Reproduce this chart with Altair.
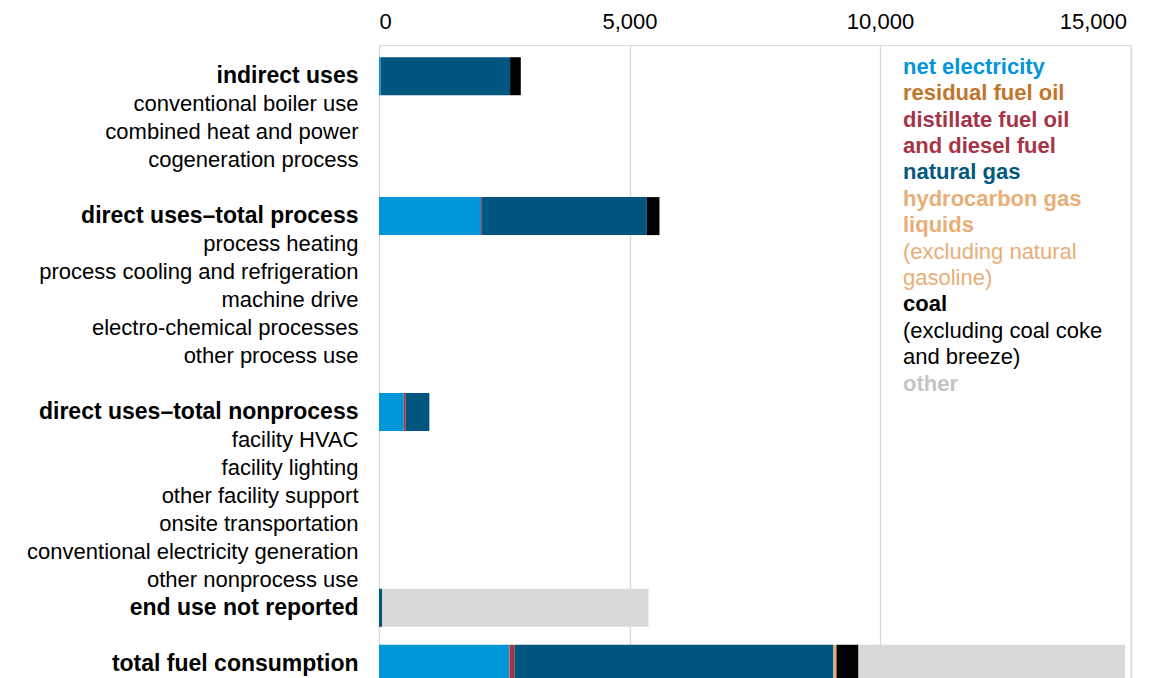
import altair as alt
import pandas as pd

rows = ["indirect uses", "conventional boiler use", "combined heat and power", "cogeneration process", " ",
        "direct uses\u2013total process", "process heating", "process cooling and refrigeration", "machine drive",
        "electro-chemical processes", "other process use", "  ",
        "direct uses\u2013total nonprocess", "facility HVAC", "facility lighting", "other facility support",
        "onsite transportation", "conventional electricity generation", "other nonprocess use",
        "end use not reported", "   ", "total fuel consumption"]
bold_rows = ["indirect uses", "direct uses\u2013total process", "direct uses\u2013total nonprocess",
             "end use not reported", "total fuel consumption"]

fuels = ["net electricity", "residual fuel oil", "distillate fuel oil and diesel fuel", "natural gas",
         "hydrocarbon gas liquids", "coal", "other"]
fuel_colors = ["#0096D7", "#C0752B", "#A63446", "#00567E", "#E8AE78", "#000000", "#D9D9D9"]

bar_rows = ["indirect uses", "direct uses\u2013total process", "direct uses\u2013total nonprocess",
            "end use not reported", "total fuel consumption"]
net_electricity = [30, 2037, 493, 0, 2596]
residual_fuel_oil = [0, 0, 0, 0, 10]
distillate = [0, 20, 40, 0, 100]
natural_gas = [2586, 3290, 472, 60, 6365]
hgl = [0, 0, 0, 0, 60]
coal = [214, 251, 0, 0, 440]
other = [0, 0, 0, 5320, 5320]

series = [net_electricity, residual_fuel_oil, distillate, natural_gas, hgl, coal, other]

recs = []
for fi, (f, vals) in enumerate(zip(fuels, series)):
    for r, v in zip(bar_rows, vals):
        if v > 0:
            recs.append({"row": r, "fuel": f, "value": v, "order": fi})
df = pd.DataFrame(recs)

legend_lines = ["net electricity", "residual fuel oil", "distillate fuel oil", "and diesel fuel", "natural gas",
                "hydrocarbon gas", "liquids", "(excluding natural", "gasoline)", "coal",
                "(excluding coal coke", "and breeze)", "other"]
legend_colors = ["#0096D7", "#C0752B", "#A63446", "#A63446", "#04597F", "#E8AE78", "#E8AE78", "#E8AE78",
                 "#E8AE78", "#000000", "#000000", "#000000", "#C4C4C4"]
legend_bold = [True, True, True, True, True, True, True, False, False, True, False, False, True]
ldf = pd.DataFrame({"text": legend_lines, "tcolor": legend_colors, "bold": legend_bold,
                    "line": list(range(len(legend_lines)))})

H = 650
FONT = "Liberation Sans"

bold_test = " || ".join([f"datum.value == '{b}'" for b in bold_rows])

bars = alt.Chart(df).mark_bar(size=38, strokeWidth=0).encode(
    x=alt.X("value:Q", stack="zero",
            scale=alt.Scale(domain=[0, 15000], nice=False),
            axis=alt.Axis(orient="top", values=[0, 5000, 10000, 15000], format=",d", title=None,
                          domain=False, domainColor="#FFFFFF", domainWidth=0, domainOpacity=0,
                          ticks=False, tickSize=0, labelPadding=17,
                          labelBaseline="alphabetic", labelFontSize=22, labelFont=FONT,
                          labelOffset={"condition": {"test": "datum.value == 15000", "value": -4}, "value": 0},
                          labelColor="#000000", grid=True, gridColor="#D9D9D9", gridWidth=1.3)),
    y=alt.Y("row:N", sort=None,
            scale=alt.Scale(domain=rows, paddingInner=0, paddingOuter=0.616),
            axis=alt.Axis(title=None, domain=False, domainOpacity=0, ticks=False, tickSize=0,
                          labelPadding=21, grid=False,
                          labelFont=FONT, labelColor="#000000", labelLimit=500,
                          labelFontSize={"condition": {"test": bold_test, "value": 23}, "value": 22},
                          labelFontWeight={"condition": {"test": bold_test, "value": "bold"}, "value": "normal"})),
    color=alt.Color("fuel:N", scale=alt.Scale(domain=fuels, range=fuel_colors), legend=None),
    order=alt.Order("order:Q"),
)

yleg = alt.Y("line:Q", scale=alt.Scale(domain=[-21.7 / 26.4, (H - 21.7) / 26.4], reverse=True,
                                       nice=False, zero=False), axis=None)

leg_bold = alt.Chart(ldf).transform_filter("datum.bold").mark_text(
    align="left", baseline="middle", fontSize=22, font=FONT, fontWeight="bold"
).encode(x=alt.value(524), y=yleg, text="text:N", color=alt.Color("tcolor:N", scale=None))

leg_norm = alt.Chart(ldf).transform_filter("!datum.bold").mark_text(
    align="left", baseline="middle", fontSize=22, font=FONT, fontWeight="normal"
).encode(x=alt.value(524), y=yleg, text="text:N", color=alt.Color("tcolor:N", scale=None))

chart = alt.layer(bars, leg_bold, leg_norm).resolve_scale(y="independent", color="independent").properties(
    width=751.5, height=H,
    autosize=alt.AutoSizeParams(type="none"),
    padding={"left": 371, "top": 37, "right": 29, "bottom": 0},
).configure_view(stroke=None, strokeWidth=0, strokeOpacity=0).configure_axis(
    domain=False, domainOpacity=0
).configure_axisX(domain=False, domainColor="#FFFFFF").configure_axisTop(
    domain=False, domainColor="#FFFFFF"
).configure(font=FONT)

chart.save("out.html", embed_options={"renderer": "svg", "actions": False})
